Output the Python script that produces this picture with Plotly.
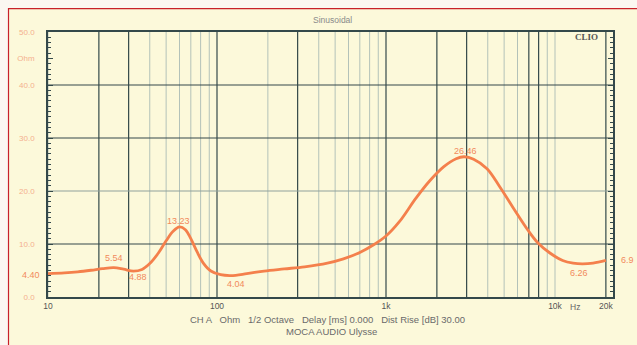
import numpy as np
import plotly.graph_objects as go

# Impedance curve of the MOCA AUDIO Ulysse (frequency in Hz, modulus in ohm)
freq_hz = [10, 12.5, 15, 18, 21, 24.5, 28, 32, 36, 40, 45, 50, 55, 60, 65, 70, 76, 83, 92,
           105, 121, 150, 190, 250, 330, 450, 560, 700, 850, 1000, 1200, 1500, 1800, 2200,
           2600, 2900, 3300, 3960, 4730, 5640, 6920, 7930, 9330, 11100, 12800, 14500,
           16800, 20000]
impedance_ohm = [4.40, 4.55, 4.75, 5.05, 5.35, 5.54, 5.25, 4.88, 5.2, 6.3, 8.3, 10.6, 12.4,
                 13.23, 12.7, 11.0, 8.6, 6.4, 4.9, 4.2, 4.04, 4.4, 4.9, 5.3, 5.7, 6.4, 7.2,
                 8.4, 9.9, 11.5, 14.2, 18.6, 21.8, 24.6, 26.1, 26.46, 26.0, 24.2, 20.7, 16.9,
                 12.6, 10.2, 8.3, 6.9, 6.4, 6.26, 6.4, 6.9]

# Values printed next to the curve
marker_freq = [10, 24.5, 32, 60, 121, 2900, 14500, 20000]
marker_val = [4.40, 5.54, 4.88, 13.23, 4.04, 26.46, 6.26, 6.9]
marker_text = ["4.40", "5.54", "4.88", "13.23", "4.04", "26.46", "6.26", "6.9"]
marker_dx = [-17, 0, 5, -1, 5, 1, -3, 22]
marker_dy = [-1, 10, -6, 6, -8, 6, -9, 0]

# Axis labelling
y_tick_vals = [0, 10, 20, 30, 40, 45, 50]
y_tick_text = ["0.0", "10.0", "20.0", "30.0", "40.0", "Ohm", "50.0"]
x_tick_vals = [10, 100, 1000, 10000, 20000]
x_tick_text = ["10", "100", "1k", "10k", "20k"]

# Grid lines
grid_freqs = [f * m for m in (10, 100, 1000) for f in range(1, 10)] + [10000, 20000]
dark_freqs = [20, 30, 100, 300, 1000, 2000, 3000, 7000, 8000, 20000]
grid_ohm = [10, 20, 30, 40]
light_ohm = [20]

PANEL = "#fcf9da"
PAPER = "#fbf7f1"
DARK = "#34494a"
LIGHT = "#b3c2b9"
CURVE = "#f4804c"
LABEL = "#f28a5c"
FONT = "Liberation Sans"

fig = go.Figure()

fig.add_trace(go.Scatter(
    x=freq_hz, y=impedance_ohm, mode="lines",
    line=dict(color=CURVE, width=2.8, shape="spline", smoothing=1.0),
    hoverinfo="skip", showlegend=False,
))

shapes = []
# outer panel with its red border
shapes.append(dict(type="rect", xref="paper", yref="paper",
                   x0=-0.0699, x1=1.06, y0=-0.25, y1=1.0885,
                   line=dict(color="#c8202a", width=1.2), fillcolor=PANEL, layer="below"))
for f in grid_freqs:
    dark = f in dark_freqs
    shapes.append(dict(type="line", xref="x", yref="paper", x0=f, x1=f, y0=0, y1=1,
                       line=dict(color=DARK if dark else LIGHT, width=1.2 if dark else 1),
                       layer="below"))
for v in grid_ohm:
    lt = v in light_ohm
    shapes.append(dict(type="line", xref="paper", yref="y", x0=0, x1=1, y0=v, y1=v,
                       line=dict(color="#8fa19c" if lt else DARK, width=1.1),
                       layer="below"))

annotations = []
for f, v, t, dx, dy in zip(marker_freq, marker_val, marker_text, marker_dx, marker_dy):
    annotations.append(dict(x=np.log10(f), y=v, xref="x", yref="y", text=t,
                            showarrow=False, xshift=dx, yshift=dy,
                            font=dict(family=FONT, size=9, color=LABEL)))

# free text placed in pixel coordinates of the 637x345 page
L, R, T, B = 48, 613, 32, 297
page_text = [
    (332, 20, "center", "Sinusoidal", 8.5, "#8a8a8a"),
    (600, 37, "right", "<b>CLIO</b>", 9, "#555555"),
    (575, 307, "center", "Hz", 8.5, "#666666"),
    (327, 319, "center", "CH A   Ohm   1/2 Octave   Delay [ms] 0.000   Dist Rise [dB] 30.00",
     9.5, "#6a6a6a"),
    (331, 331, "center", "MOCA AUDIO Ulysse", 9.5, "#6a6a6a"),
]
for px, py, anchor, text, size, color in page_text:
    fam = "Liberation Serif" if "CLIO" in text else FONT
    annotations.append(dict(x=(px - L) / (R - L), y=(B - py) / (B - T),
                            xref="paper", yref="paper", xanchor=anchor, yanchor="middle",
                            text=text, showarrow=False,
                            font=dict(family=fam, size=size, color=color)))

fig.update_layout(
    width=637, height=345,
    margin=dict(l=L, r=637 - R, t=T, b=345 - B),
    paper_bgcolor=PAPER, plot_bgcolor=PANEL,
    shapes=shapes, annotations=annotations,
    xaxis=dict(type="log", range=[1, 1 + (R - L) / 169.0],
               showgrid=False, zeroline=False,
               showline=True, linecolor=DARK, linewidth=1.5, mirror=True,
               tickvals=x_tick_vals, ticktext=x_tick_text, ticks="",
               tickfont=dict(family=FONT, size=8.5, color="#555555")),
    yaxis=dict(range=[0, 50], showgrid=False, zeroline=False,
               showline=True, linecolor=DARK, linewidth=1.5, mirror="ticks",
               tickvals=y_tick_vals, ticktext=y_tick_text,
               ticks="inside", ticklen=5, tickcolor=DARK, tickwidth=1,
               minor=dict(dtick=1, ticks="inside", ticklen=3, tickcolor=DARK),
               ticklabelstandoff=10,
               tickfont=dict(family=FONT, size=8, color="#f4b08e")),
)

fig.write_html("out.html")
